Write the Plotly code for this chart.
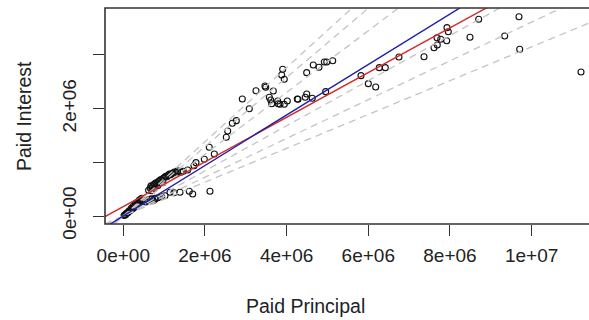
import numpy as np
import plotly.graph_objects as go

# Paid principal / paid interest per loan, in millions of dollars
principal_m = [
    3.904, 3.879, 3.943, 3.470, 3.488, 3.250, 3.674, 2.915, 3.576, 3.610,
    3.782, 3.635, 3.796, 3.838, 3.943, 4.017, 4.262, 3.086, 2.768, 2.670,
    2.557, 2.523, 2.106, 2.229, 1.984, 1.781, 1.732, 1.577, 1.470, 1.413,
    1.323, 2.123, 1.616, 1.700, 1.389, 1.242, 1.144, 1.021, 0.940, 0.776,
    0.735,
    4.492, 4.653, 4.793, 4.923, 4.982, 5.129, 4.279, 4.457, 4.492, 4.629,
    4.957, 5.822, 6.001, 6.182, 6.270, 6.417, 6.752, 7.365, 7.610, 7.690,
    7.774, 7.683, 7.921, 7.928, 7.960, 8.491, 8.704, 9.341, 9.691, 9.709,
    11.210,
    0.62, 0.66, 0.68, 0.71, 0.74, 0.77, 0.80, 0.83, 0.86, 0.89,
    0.92, 0.95, 0.98, 1.01, 1.04, 1.07, 1.10, 1.13, 1.16, 1.19,
    1.22, 1.25, 1.29, 1.33, 0.70, 0.76, 0.85, 0.97,
    0.02, 0.04, 0.06, 0.08, 0.10, 0.12, 0.14, 0.16, 0.19, 0.22,
    0.25, 0.28, 0.31, 0.34, 0.37, 0.40, 0.43, 0.46, 0.30, 0.35,
    0.40, 0.45, 0.20, 0.25,
    0.60, 0.65, 0.70, 0.78, 0.85, 0.55,
]
interest_m = [
    2.732, 2.626, 2.546, 2.421, 2.397, 2.333, 2.328, 2.179, 2.210, 2.160,
    2.142, 2.091, 2.091, 2.080, 2.080, 2.142, 2.179, 1.998, 1.775, 1.726,
    1.583, 1.466, 1.279, 1.155, 1.056, 0.993, 0.937, 0.857, 0.832, 0.814,
    0.814, 0.460, 0.460, 0.410, 0.441, 0.434, 0.441, 0.378, 0.359, 0.311,
    0.285,
    2.669, 2.812, 2.769, 2.868, 2.868, 2.892, 2.173, 2.210, 2.272, 2.192,
    2.315, 2.613, 2.464, 2.402, 2.762, 2.762, 2.961, 2.966, 3.134, 3.184,
    3.291, 3.320, 3.264, 3.507, 3.432, 3.328, 3.663, 3.352, 3.711, 3.104,
    2.682,
    0.48, 0.52, 0.56, 0.54, 0.58, 0.60, 0.62, 0.61, 0.64, 0.66,
    0.68, 0.67, 0.70, 0.72, 0.74, 0.73, 0.76, 0.78, 0.77, 0.79,
    0.80, 0.82, 0.81, 0.84, 0.47, 0.51, 0.57, 0.62,
    0.01, 0.02, 0.03, 0.05, 0.06, 0.07, 0.09, 0.10, 0.12, 0.13,
    0.15, 0.17, 0.19, 0.21, 0.23, 0.25, 0.27, 0.29, 0.23, 0.26,
    0.30, 0.33, 0.15, 0.19,
    0.29, 0.31, 0.32, 0.33, 0.34, 0.26,
]

# Reference ratios (interest / principal) drawn as dashed lines through the origin
ratio_slopes = [0.315, 0.361, 0.42, 0.575, 0.645, 0.691]
# Fitted lines: linear model with intercept, and model through the origin
lm_intercept, lm_slope = 175000.0, 0.416
origin_slope = 0.47

x_ticks = [0, 2e6, 4e6, 6e6, 8e6, 1e7]
x_tick_text = ["0e+00", "2e+06", "4e+06", "6e+06", "8e+06", "1e+07"]
y_ticks = [0, 1e6, 2e6, 3e6]
y_tick_text = ["0e+00", "", "2e+06", ""]

x_range = [-448000, 11406000]
y_range = [-149000, 3873000]

px_ = np.array(principal_m) * 1e6
iy_ = np.array(interest_m) * 1e6
xs = np.array(x_range)

FONT = "Liberation Sans, Arial, sans-serif"
fig = go.Figure()

fig.add_trace(go.Scatter(
    x=px_, y=iy_, mode="markers",
    marker=dict(symbol="circle-open", size=6, color="#111111", line=dict(width=1.1)),
    hoverinfo="skip", showlegend=False,
))

for s in ratio_slopes:
    fig.add_trace(go.Scatter(
        x=xs, y=s * xs, mode="lines",
        line=dict(color="#c4c4c4", width=1.3, dash="7px,5px"),
        hoverinfo="skip", showlegend=False,
    ))

fig.add_trace(go.Scatter(
    x=xs, y=lm_intercept + lm_slope * xs, mode="lines",
    line=dict(color="#d42a2a", width=1.4),
    hoverinfo="skip", showlegend=False,
))
fig.add_trace(go.Scatter(
    x=xs, y=origin_slope * xs, mode="lines",
    line=dict(color="#2020a8", width=1.4),
    hoverinfo="skip", showlegend=False,
))

axis_common = dict(
    showgrid=False, zeroline=False, showline=False,
    ticks="outside", ticklen=11, tickwidth=1, tickcolor="#333333",
    tickfont=dict(family=FONT, size=19, color="#222222"),
    tickmode="array",
)
fig.update_xaxes(range=x_range, tickvals=x_ticks, ticktext=x_tick_text,
                 ticklabelstandoff=3, **axis_common)
fig.update_yaxes(range=y_range, tickvals=y_ticks, ticktext=y_tick_text,
                 tickangle=-90, ticklabelstandoff=9, **axis_common)

# plot frame (the right side falls beyond the visible canvas)
fig.add_shape(type="rect", xref="paper", yref="paper", x0=0, x1=1.03, y0=0, y1=1,
              line=dict(color="#333333", width=1.6), layer="above")

fig.add_annotation(text="Paid Principal", xref="paper", yref="paper",
                   x=(305 - 105) / 484, y=-(306 - 224) / 216, showarrow=False,
                   xanchor="center", yanchor="middle",
                   font=dict(family=FONT, size=19.5, color="#222222"))
fig.add_annotation(text="Paid Interest", xref="paper", yref="paper",
                   x=-(105 - 24) / 484, y=(224 - 116) / 216, showarrow=False,
                   textangle=-90, xanchor="center", yanchor="middle",
                   font=dict(family=FONT, size=19.5, color="#222222"))

fig.update_layout(
    width=589, height=320,
    margin=dict(l=105, r=0, t=8, b=96),
    paper_bgcolor="white", plot_bgcolor="white",
    showlegend=False,
)

fig.write_html("out.html")
